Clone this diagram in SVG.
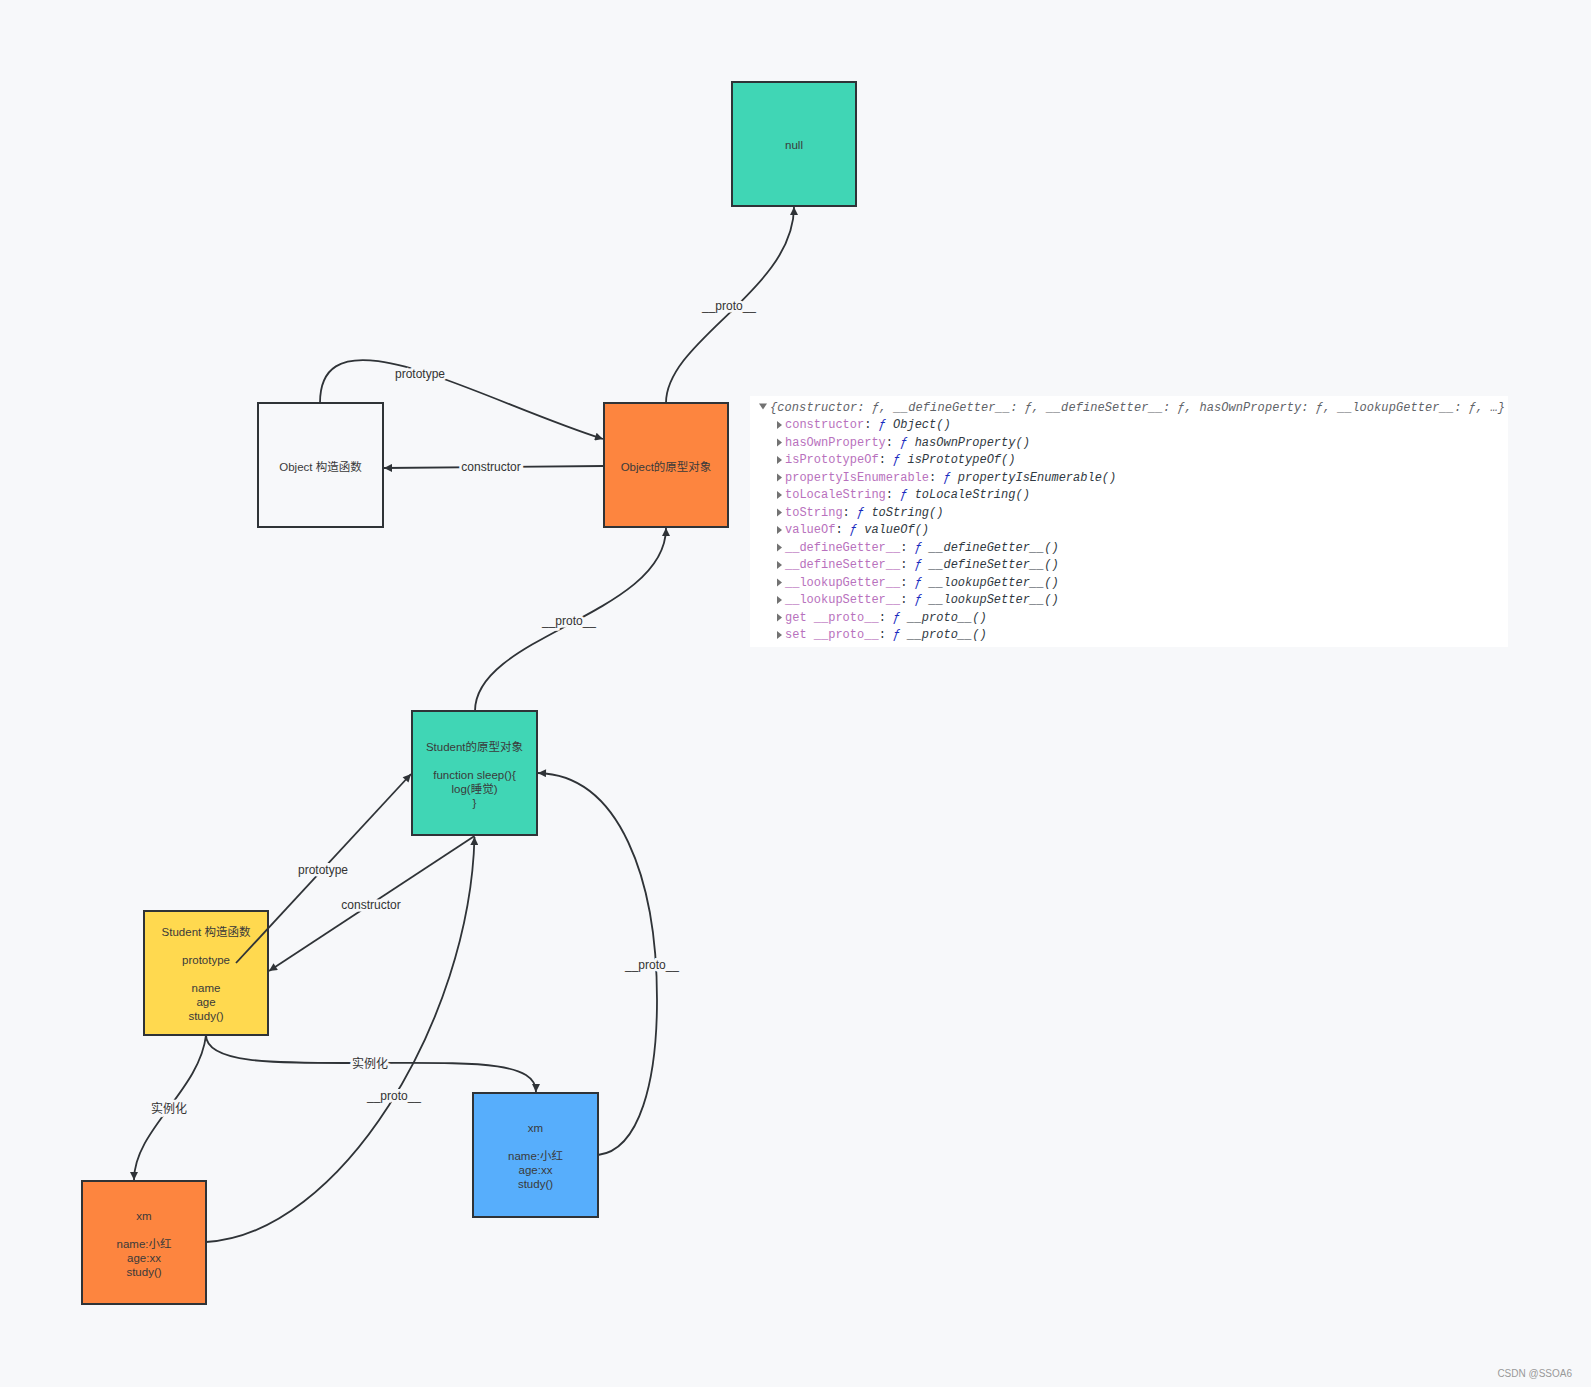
<svg xmlns="http://www.w3.org/2000/svg" width="1591" height="1387" viewBox="0 0 1591 1387">
<style>
.box{stroke:#2f3337;stroke-width:2}
.nt{font-family:"Liberation Sans","Noto Sans CJK SC",sans-serif;font-size:11.5px;fill:#3a3a3a;text-anchor:middle;dominant-baseline:central}
.el{font-family:"Liberation Sans","Noto Sans CJK SC",sans-serif;font-size:12px;fill:#333;text-anchor:middle;dominant-baseline:central;stroke:#f7f8fa;stroke-width:5;paint-order:stroke}
.c{fill:none;stroke:#2f3337;stroke-width:1.8}
.con{font-family:"Liberation Mono","DejaVu Sans Mono",monospace;font-size:12px;font-style:italic;dominant-baseline:central}
.k{fill:#b871bd;font-style:normal}
.f{fill:#1a2bbf}
.v{fill:#303942}
.tri{fill:#727272}
</style>
<defs>
<marker id="ah" viewBox="0 0 10 10" refX="10" refY="5" markerWidth="9" markerHeight="8" markerUnits="userSpaceOnUse" orient="auto">
<path d="M0,0 L10,5 L0,10 z" fill="#2f3337"/>
</marker>
</defs>
<rect x="0" y="0" width="1591" height="1387" fill="#f7f8fa"/>

<g id="console">
<rect x="750" y="396" width="758" height="251" fill="#ffffff"/>
<g transform="translate(0,1.5)">
<polygon class="tri" points="759,402 767,402 763,408"/>
<text class="con" x="770" y="406" fill="#5f6368" textLength="735">{constructor: ƒ, __defineGetter__: ƒ, __defineSetter__: ƒ, hasOwnProperty: ƒ, __lookupGetter__: ƒ, …}</text>
<polygon class="tri" points="777,419.5 777,427.5 782,423.5"/>
<text class="con" x="785" y="423.5"><tspan class="k">constructor</tspan><tspan class="v" style="font-style:normal">: </tspan><tspan class="f">ƒ</tspan><tspan class="v"> Object()</tspan></text>
<polygon class="tri" points="777,437 777,445 782,441"/>
<text class="con" x="785" y="441"><tspan class="k">hasOwnProperty</tspan><tspan class="v" style="font-style:normal">: </tspan><tspan class="f">ƒ</tspan><tspan class="v"> hasOwnProperty()</tspan></text>
<polygon class="tri" points="777,454.5 777,462.5 782,458.5"/>
<text class="con" x="785" y="458.5"><tspan class="k">isPrototypeOf</tspan><tspan class="v" style="font-style:normal">: </tspan><tspan class="f">ƒ</tspan><tspan class="v"> isPrototypeOf()</tspan></text>
<polygon class="tri" points="777,472 777,480 782,476"/>
<text class="con" x="785" y="476"><tspan class="k">propertyIsEnumerable</tspan><tspan class="v" style="font-style:normal">: </tspan><tspan class="f">ƒ</tspan><tspan class="v"> propertyIsEnumerable()</tspan></text>
<polygon class="tri" points="777,489.5 777,497.5 782,493.5"/>
<text class="con" x="785" y="493.5"><tspan class="k">toLocaleString</tspan><tspan class="v" style="font-style:normal">: </tspan><tspan class="f">ƒ</tspan><tspan class="v"> toLocaleString()</tspan></text>
<polygon class="tri" points="777,507 777,515 782,511"/>
<text class="con" x="785" y="511"><tspan class="k">toString</tspan><tspan class="v" style="font-style:normal">: </tspan><tspan class="f">ƒ</tspan><tspan class="v"> toString()</tspan></text>
<polygon class="tri" points="777,524.5 777,532.5 782,528.5"/>
<text class="con" x="785" y="528.5"><tspan class="k">valueOf</tspan><tspan class="v" style="font-style:normal">: </tspan><tspan class="f">ƒ</tspan><tspan class="v"> valueOf()</tspan></text>
<polygon class="tri" points="777,542 777,550 782,546"/>
<text class="con" x="785" y="546"><tspan class="k">__defineGetter__</tspan><tspan class="v" style="font-style:normal">: </tspan><tspan class="f">ƒ</tspan><tspan class="v"> __defineGetter__()</tspan></text>
<polygon class="tri" points="777,559.5 777,567.5 782,563.5"/>
<text class="con" x="785" y="563.5"><tspan class="k">__defineSetter__</tspan><tspan class="v" style="font-style:normal">: </tspan><tspan class="f">ƒ</tspan><tspan class="v"> __defineSetter__()</tspan></text>
<polygon class="tri" points="777,577 777,585 782,581"/>
<text class="con" x="785" y="581"><tspan class="k">__lookupGetter__</tspan><tspan class="v" style="font-style:normal">: </tspan><tspan class="f">ƒ</tspan><tspan class="v"> __lookupGetter__()</tspan></text>
<polygon class="tri" points="777,594.5 777,602.5 782,598.5"/>
<text class="con" x="785" y="598.5"><tspan class="k">__lookupSetter__</tspan><tspan class="v" style="font-style:normal">: </tspan><tspan class="f">ƒ</tspan><tspan class="v"> __lookupSetter__()</tspan></text>
<polygon class="tri" points="777,612 777,620 782,616"/>
<text class="con" x="785" y="616"><tspan class="k">get __proto__</tspan><tspan class="v" style="font-style:normal">: </tspan><tspan class="f">ƒ</tspan><tspan class="v"> __proto__()</tspan></text>
<polygon class="tri" points="777,629.5 777,637.5 782,633.5"/>
<text class="con" x="785" y="633.5"><tspan class="k">set __proto__</tspan><tspan class="v" style="font-style:normal">: </tspan><tspan class="f">ƒ</tspan><tspan class="v"> __proto__()</tspan></text>
</g>
</g>

<g id="node-null">
<rect class="box" x="732" y="82" width="124" height="124" fill="#40d6b5"/>
<text class="nt" x="794" y="145">null</text>
</g>
<g id="node-object-ctor">
<rect class="box" x="258" y="403" width="125" height="124" fill="#f7f8fa"/>
<text class="nt" x="320.5" y="467">Object 构造函数</text>
</g>
<g id="node-object-proto">
<rect class="box" x="604" y="403" width="124" height="124" fill="#fd853f"/>
<text class="nt" x="666" y="467">Object的原型对象</text>
</g>
<g id="node-student-proto">
<rect class="box" x="412" y="711" width="125" height="124" fill="#40d6b5"/>
<text class="nt" x="474.5" y="747">Student的原型对象</text>
<text class="nt" x="474.5" y="775">function sleep(){</text>
<text class="nt" x="474.5" y="789">log(睡觉)</text>
<text class="nt" x="474.5" y="803">}</text>
</g>
<g id="node-student-ctor">
<rect class="box" x="144" y="911" width="124" height="124" fill="#ffd94f"/>
<text class="nt" x="206" y="932">Student 构造函数</text>
<text class="nt" x="206" y="960">prototype</text>
<text class="nt" x="206" y="988">name</text>
<text class="nt" x="206" y="1002">age</text>
<text class="nt" x="206" y="1016">study()</text>
</g>
<g id="node-xm-orange">
<rect class="box" x="82" y="1181" width="124" height="123" fill="#fd853f"/>
<text class="nt" x="144" y="1216">xm</text>
<text class="nt" x="144" y="1244">name:小红</text>
<text class="nt" x="144" y="1258">age:xx</text>
<text class="nt" x="144" y="1272">study()</text>
</g>
<g id="node-xm-blue">
<rect class="box" x="473" y="1093" width="125" height="124" fill="#57aefc"/>
<text class="nt" x="535.5" y="1128">xm</text>
<text class="nt" x="535.5" y="1156">name:小红</text>
<text class="nt" x="535.5" y="1170">age:xx</text>
<text class="nt" x="535.5" y="1184">study()</text>
</g>

<g id="connectors">
<path class="c" d="M666,403 C666,340 794,290 794,207" marker-end="url(#ah)"/>
<path class="c" d="M320,403 C320,305 480,400 603,439" marker-end="url(#ah)"/>
<path class="c" d="M604,466 L384,468" marker-end="url(#ah)"/>
<path class="c" d="M475,711 C475,635 666,615 666,528" marker-end="url(#ah)"/>
<path class="c" d="M236,963 L411,774" marker-end="url(#ah)"/>
<path class="c" d="M474.5,836 L269,971" marker-end="url(#ah)"/>
<path class="c" d="M206,1035 C200,1090 134,1130 134,1180" marker-end="url(#ah)"/>
<path class="c" d="M206,1035 C206,1065 280,1063 370,1063 C470,1063 536,1060 536,1092" marker-end="url(#ah)"/>
<path class="c" d="M206,1242 C340,1235 470,1020 474.5,837" marker-end="url(#ah)"/>
<path class="c" d="M598,1155 C640,1150 657,1080 657,1000 C657,880 620,775 538,773" marker-end="url(#ah)"/>
<text class="el" x="729" y="306">__proto__</text>
<text class="el" x="420" y="374">prototype</text>
<text class="el" x="491" y="467">constructor</text>
<text class="el" x="569" y="621">__proto__</text>
<text class="el" x="323" y="870">prototype</text>
<text class="el" x="371" y="905">constructor</text>
<text class="el" x="169" y="1109">实例化</text>
<text class="el" x="370" y="1064">实例化</text>
<text class="el" x="394" y="1096">__proto__</text>
<text class="el" x="652" y="965">__proto__</text>
</g>

<text x="1572" y="1373" font-family="'Liberation Sans',sans-serif" font-size="10" fill="#999" text-anchor="end" dominant-baseline="central">CSDN @SSOA6</text>
</svg>
